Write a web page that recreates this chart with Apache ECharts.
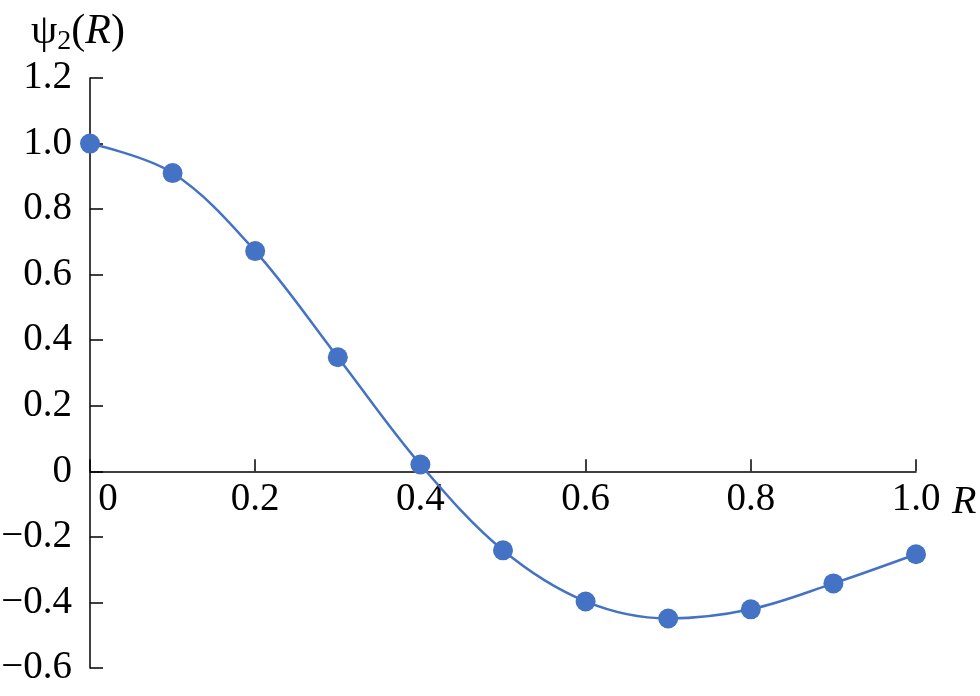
<!DOCTYPE html>
<html>
<head>
<meta charset="utf-8">
<script src="https://cdn.jsdelivr.net/npm/echarts@6/dist/echarts.min.js"></script>
<style>
  html, body { margin: 0; padding: 0; background: #fff; }
  #chart { width: 980px; height: 696px; }
</style>
</head>
<body>
<div id="chart"></div>
<script>
// R values and psi_2(R)
var rValues = [0, 0.1, 0.2, 0.3, 0.4, 0.5, 0.6, 0.7, 0.8, 0.9, 1.0];
var psiValues = [1.0, 0.91, 0.672, 0.348, 0.021, -0.241, -0.397, -0.449, -0.421, -0.342, -0.253];

var yMin = -0.6, yMax = 1.2;
var fontFamily = '"Liberation Serif", "Times New Roman", serif';

function fmt(v) {
  if (Math.abs(v) < 1e-9) return '0';
  var s = Math.abs(v).toFixed(1);
  return v < 0 ? '\u2212' + s : s;
}

var myChart = echarts.init(document.getElementById('chart'));
var gridTop = 78, gridBottom = 28, H = 696;
// x axis sits on psi = 0; move it up from the grid bottom
var plotH = H - gridTop - gridBottom;
var xOffset = -plotH * (0 - yMin) / (yMax - yMin);
var option;

option = {
  animation: false,
  backgroundColor: '#fff',
  title: {
    text: '{a|\u03c8}{s|2}{a|(}{i|R}{a|)}',
    left: 26,
    top: 3,
    textStyle: {
      fontWeight: 'normal',
      rich: {
        a: { fontFamily: fontFamily, fontSize: 42, fontWeight: 'normal', color: '#000', lineHeight: 48 },
        i: { fontFamily: fontFamily, fontSize: 42, fontStyle: 'italic', fontWeight: 'normal', color: '#000', lineHeight: 48 },
        s: { fontFamily: fontFamily, fontSize: 28, fontWeight: 'normal', color: '#000', lineHeight: 28, verticalAlign: 'bottom' }
      }
    }
  },
  grid: { left: 90, right: 64, top: gridTop, bottom: gridBottom, containLabel: false, outerBoundsMode: 'none' },
  xAxis: {
    type: 'value',
    min: 0,
    max: 1,
    interval: 0.2,
    offset: xOffset,
    name: 'R',
    nameLocation: 'end',
    nameGap: 36,
    nameTextStyle: {
      fontFamily: fontFamily,
      fontSize: 40,
      fontStyle: 'italic',
      color: '#000',
      verticalAlign: 'top',
      padding: [11, 0, 0, 0]
    },
    axisLine: { onZero: false, lineStyle: { color: '#000', width: 1.5 } },
    axisTick: { inside: true, length: 12, lineStyle: { color: '#000', width: 1.5 } },
    axisLabel: {
      margin: 9,
      color: '#000',
      fontFamily: fontFamily,
      fontSize: 39,
      formatter: function (v) {
        return v === 0 ? '{z|0}' : v.toFixed(1);
      },
      rich: {
        z: { fontFamily: fontFamily, fontSize: 39, color: '#000', padding: [0, 0, 0, 36] }
      }
    },
    splitLine: { show: false }
  },
  yAxis: {
    type: 'value',
    min: yMin,
    max: yMax,
    interval: 0.2,
    axisLine: { show: true, onZero: false, lineStyle: { color: '#000', width: 1.5 } },
    axisTick: { show: true, inside: true, length: 13, lineStyle: { color: '#000', width: 1.5 } },
    axisLabel: {
      margin: 18,
      color: '#000',
      fontFamily: fontFamily,
      fontSize: 39,
      formatter: fmt
    },
    splitLine: { show: false }
  },
  series: [
    {
      type: 'line',
      data: rValues.map(function (r, i) { return [r, psiValues[i]]; }),
      smooth: 0.35,
      symbol: 'circle',
      symbolSize: 20,
      itemStyle: { color: '#4472C4' },
      lineStyle: { color: '#4472C4', width: 2.5 }
    }
  ]
};

option && myChart.setOption(option);
</script>
</body>
</html>
